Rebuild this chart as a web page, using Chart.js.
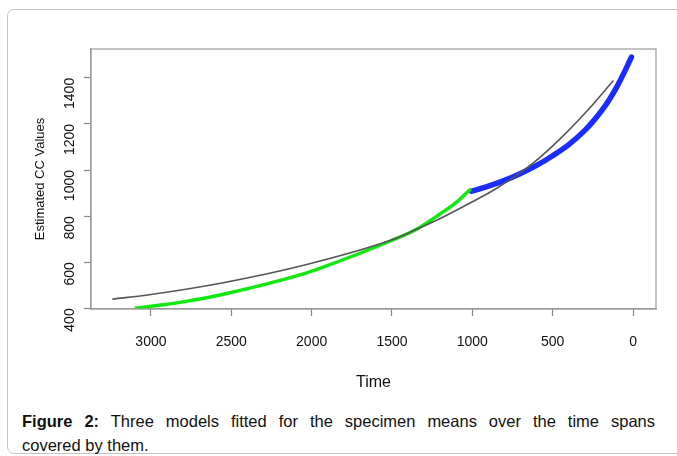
<!DOCTYPE html>
<html>
<head>
<meta charset="utf-8">
<script src="https://cdn.jsdelivr.net/npm/chart.js@4.4.0/dist/chart.umd.min.js"></script>
<style>
  body { margin: 0; background: #fff; width: 677px; height: 456px; overflow: hidden; position: relative; font-family: "Liberation Sans", Arial, sans-serif; }
  .card { position: absolute; left: 7px; top: 9px; width: 720px; height: 443px; border: 1px solid #c4c4c4; border-radius: 7px; }
  #wrap { position: absolute; left: 0; top: 0; width: 677px; height: 400px; }
  .caption { position: absolute; left: 22px; top: 409px; width: 633px; font-size: 16.5px; line-height: 24px; color: #111; }
  .caption .l1 { text-align: justify; text-align-last: justify; }
</style>
</head>
<body>
<div class="card"></div>
<div id="wrap"><canvas id="myChart"></canvas></div>
<div class="caption"><div class="l1"><b>Figure 2:</b> Three models fitted for the specimen means over the time spans</div><div>covered by them.</div></div>
<script>
// values (time, estimated CC)
var grayTime = [3240, 3000, 2550, 2030, 1500, 1350, 1200, 1014, 848, 620, 454, 288, 122];
var grayVal  = [440, 460, 511, 590, 697, 742, 790, 857, 921, 1031, 1135, 1255, 1388];
var greenTime = [3100, 2800, 2550, 2030, 1950, 1510, 1350, 1200, 1100, 1010];
var greenVal  = [400, 428, 461, 554, 573, 692, 742, 810, 860, 918];
var blueTime = [1005, 900, 800, 700, 600, 500, 400, 300, 250, 200, 150, 100, 50, 10];
var blueVal  = [908, 930, 955, 985, 1020, 1062, 1110, 1172, 1210, 1253, 1303, 1362, 1430, 1490];
var xTicks = [0, 500, 1000, 1500, 2000, 2500, 3000];
var yTicks = [400, 600, 800, 1000, 1200, 1400];

function pts(t, v) {
  return t.map((a, i) => ({x: a, y: v[i]}));
}

const boxPlugin = {
  id: 'box',
  afterDraw(chart) {
    const a = chart.chartArea;
    const ctx = chart.ctx;
    ctx.save();
    ctx.strokeStyle = '#9a9a9a';
    ctx.lineWidth = 1.2;
    ctx.strokeRect(a.left, a.top, a.right - a.left, a.bottom - a.top);
    ctx.restore();
  }
};

var ctx = document.getElementById('myChart').getContext('2d');
var chart = new Chart(ctx, {
  type: 'scatter',
  data: {
    datasets: [{
      label: 'gray',
      data: pts(grayTime, grayVal),
      borderColor: '#555555',
      borderWidth: 1.6,
      showLine: true,
      pointRadius: 0,
      cubicInterpolationMode: 'monotone'
    },{
      label: 'green',
      data: pts(greenTime, greenVal),
      borderColor: '#10e810',
      borderWidth: 3.5,
      showLine: true,
      pointRadius: 0,
      cubicInterpolationMode: 'monotone'
    },{
      label: 'blue',
      data: pts(blueTime, blueVal),
      borderColor: '#1a2cff',
      borderWidth: 5.5,
      borderCapStyle: 'round',
      showLine: true,
      pointRadius: 0,
      cubicInterpolationMode: 'monotone'
    }]
  },
  options: {
    responsive: true,
    maintainAspectRatio: false,
    animation: false,
    layout: { padding: { top: 49, right: 21, left: 0, bottom: 0 } },
    plugins: { legend: { display: false }, tooltip: { enabled: false } },
    scales: {
      x: {
        type: 'linear',
        reverse: true,
        min: -143,
        max: 3373,
        afterBuildTicks: (s) => { s.ticks = xTicks.map(v => ({value: v})); },
        afterFit: (s) => { s.height = 91; },
        grid: { drawOnChartArea: false, drawTicks: true, tickLength: 7, tickColor: '#888', tickWidth: 1.2 },
        border: { display: true, color: '#9a9a9a', width: 1.2 },
        ticks: { color: '#111', padding: 18, maxRotation: 0, callback: (v) => String(v), font: { family: 'Liberation Sans', size: 14 } },
        title: { display: true, text: 'Time', color: '#111', font: { family: 'Liberation Sans', size: 16 }, padding: { top: 8, bottom: 8 } }
      },
      y: {
        type: 'linear',
        min: 397,
        max: 1525,
        afterBuildTicks: (s) => { s.ticks = yTicks.map(v => ({value: v})); },
        afterFit: (s) => { s.width = 91; },
        grid: { drawOnChartArea: false, drawTicks: true, tickLength: 7, tickColor: '#888', tickWidth: 1.2 },
        border: { display: true, color: '#9a9a9a', width: 1.2 },
        ticks: { color: '#111', padding: 14, minRotation: 90, maxRotation: 90, callback: (v) => String(v), font: { family: 'Liberation Sans', size: 14 } },
        title: { display: true, text: 'Estimated CC Values', color: '#111', font: { family: 'Liberation Sans', size: 13 }, padding: { top: 33, bottom: 0 } }
      }
    }
  },
  plugins: [boxPlugin]
});
</script>
</body>
</html>
